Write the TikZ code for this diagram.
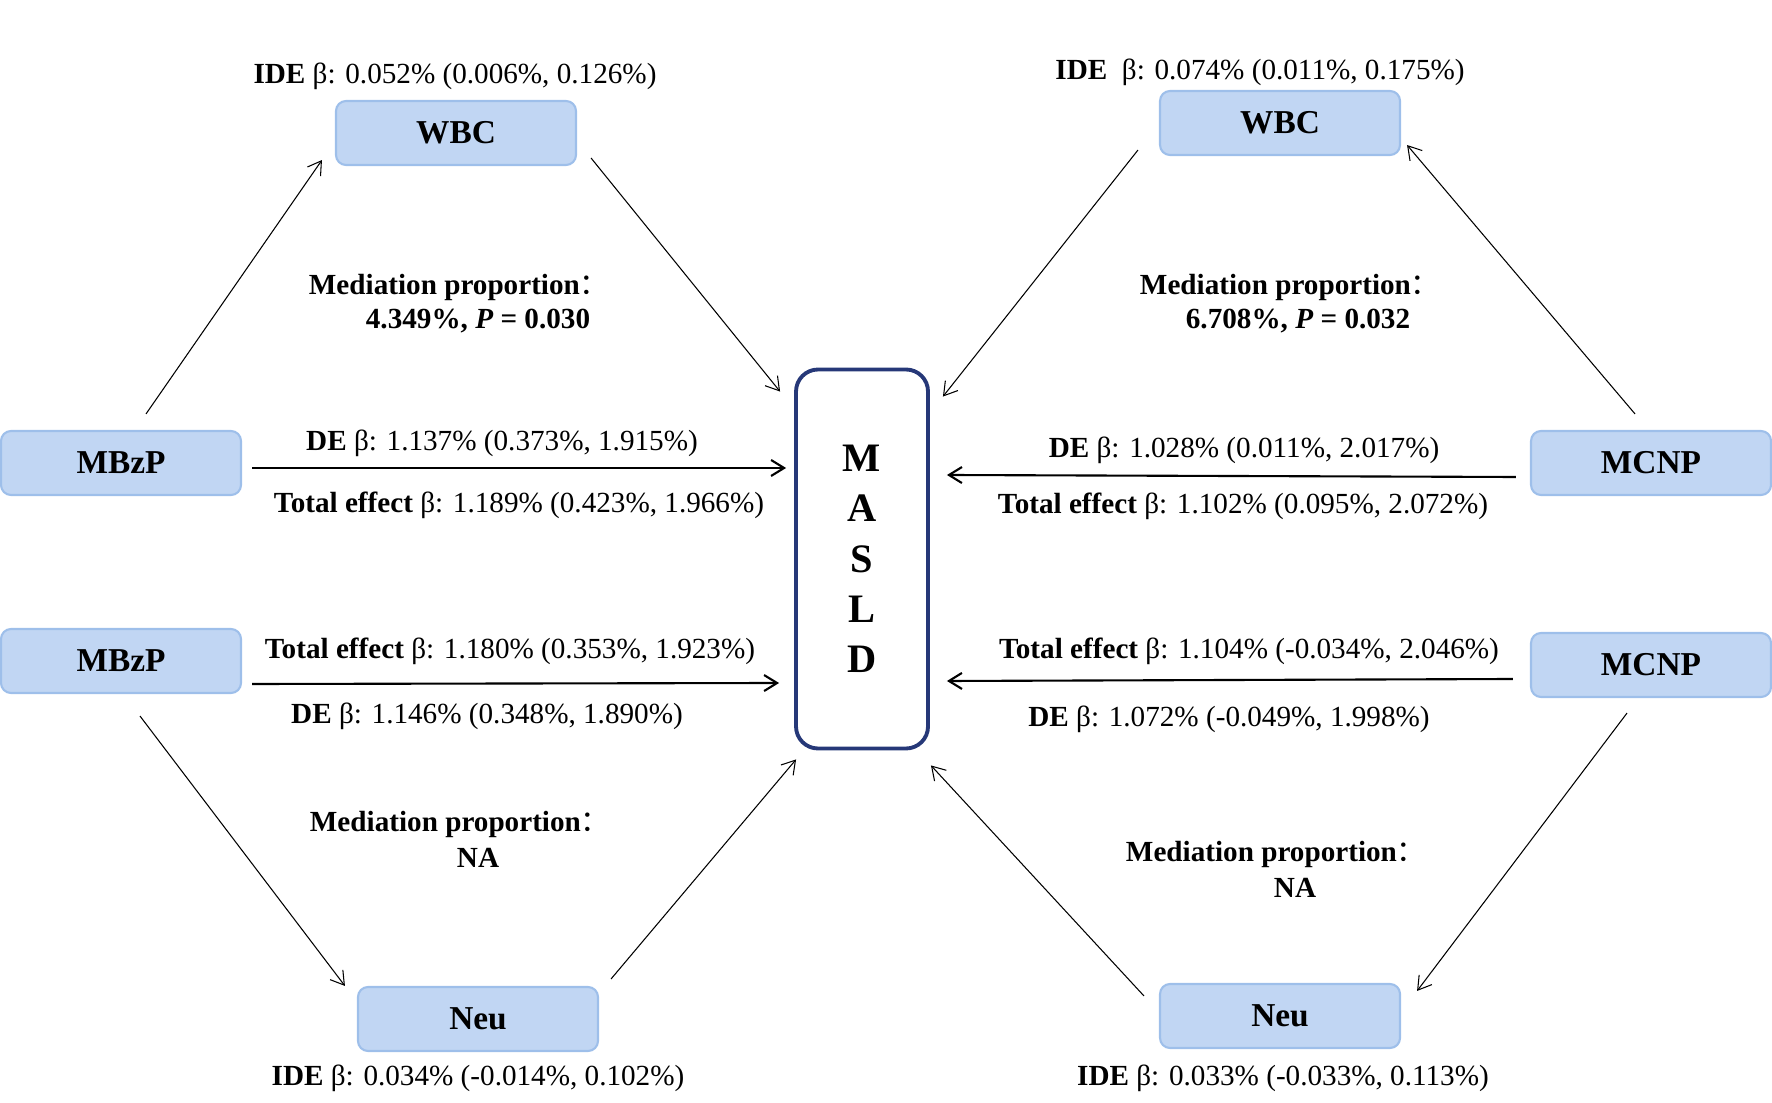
\documentclass[tikz,border=0pt]{standalone}
\usepackage{fontspec}
\setmainfont{Liberation Serif}
\newfontfamily\cjk{Noto Sans CJK SC}
\usetikzlibrary{calc,arrows.meta}
\definecolor{boxfill}{HTML}{C1D6F3}
\definecolor{boxline}{HTML}{9EBFEA}
\definecolor{navy}{HTML}{263878}
\newcommand{\medcolon}{{\cjk\mdseries ：}}

\begin{document}
\begin{tikzpicture}[x=0.1mm,y=-0.1mm,
    box/.style={draw=boxline,fill=boxfill,line width=0.6pt,rounded corners=1mm,
      minimum width=24mm,minimum height=6.4mm,inner sep=0pt,
      font=\fontsize{9.5}{11}\selectfont\bfseries},
    lbl/.style={inner sep=1pt,font=\fontsize{8.3}{10}\selectfont},
    med/.style={lbl,font=\fontsize{8.3}{10}\selectfont\bfseries},
    arr/.style={-{Straight Barb[length=1.3mm,width=1.6mm]},line width=0.3pt},
    harr/.style={arr,line width=0.6pt}]
  \useasboundingbox (0,0) rectangle (1772,1103);

  % outcome
  \node[draw=navy,line width=1.1pt,rounded corners=2.2mm,minimum width=13.2mm,
    minimum height=37.9mm,align=center,inner sep=0pt,
    font=\fontsize{11.5}{14.3}\selectfont\bfseries] (masld) at (862,559) {M\\A\\S\\L\\D};

  % exposures and mediators
  \node[box] (mbzpA) at (121,463) {MBzP};
  \node[box] (mbzpB) at (121,661) {MBzP};
  \node[box] (mcnpA) at (1651,463) {MCNP};
  \node[box] (mcnpB) at (1651,665) {MCNP};
  \node[box] (wbcA) at (456,133) {WBC};
  \node[box] (wbcB) at (1280,123) {WBC};
  \node[box] (neuA) at (478,1019) {Neu};
  \node[box] (neuB) at (1280,1016) {Neu};

  % MBzP - WBC
  \draw[arr] ($(mbzpA.north)+(25,-16)$) -- ($(wbcA.south west)+(-13,-6)$);
  \draw[arr] ($(wbcA.south east)+(14,-8)$) -- ($(masld.north west)+(-14,24)$);
  \draw[harr] ($(mbzpA.east)+(10,5)$) -- ($(mbzpA.east -| masld.west)+(-8,5)$);
  \node[lbl] (ideA) at (455,76) {\textbf{IDE} β: 0.052\% (0.006\%, 0.126\%)};
  \node[med] (medA) at (459,287) {Mediation proportion\medcolon};
  \node[med] (medAv) at (478,321) {4.349\%, \textit{P} = 0.030};
  \node[lbl] (deA) at (502,443) {\textbf{DE} β: 1.137\% (0.373\%, 1.915\%)};
  \node[lbl] (totA) at (519,505) {\textbf{Total effect} β: 1.189\% (0.423\%, 1.966\%)};

  % MCNP - WBC
  \draw[arr] ($(mcnpA.north)+(-16,-16)$) -- ($(wbcB.south east)+(6,-11)$);
  \draw[arr] ($(wbcB.south west)+(-21,-6)$) -- ($(masld.north east)+(13,29)$);
  \draw[harr] ($(mcnpA.west)+(-14,14)$) -- ($(mcnpA.west -| masld.east)+(17,12)$);
  \node[lbl] (ideB) at (1260,72) {\textbf{IDE}\ \ β: 0.074\% (0.011\%, 0.175\%)};
  \node[med] (medB) at (1290,287) {Mediation proportion\medcolon};
  \node[med] (medBv) at (1298,321) {6.708\%, \textit{P} = 0.032};
  \node[lbl] (deB) at (1244,450) {\textbf{DE} β: 1.028\% (0.011\%, 2.017\%)};
  \node[lbl] (totB) at (1243,506) {\textbf{Total effect} β: 1.102\% (0.095\%, 2.072\%)};

  % MBzP - Neu
  \draw[arr] ($(mbzpB.south)+(19,22)$) -- ($(neuA.north west)+(-12,0)$);
  \draw[arr] ($(neuA.north east)+(12,-7)$) -- ($(masld.south west)+(2,9)$);
  \draw[harr] ($(mbzpB.east)+(10,23)$) -- ($(mbzpB.east -| masld.west)+(-15,22)$);
  \node[lbl] (totC) at (510,651) {\textbf{Total effect} β: 1.180\% (0.353\%, 1.923\%)};
  \node[lbl] (deC) at (487,716) {\textbf{DE} β: 1.146\% (0.348\%, 1.890\%)};
  \node[med] (medC) at (460,824) {Mediation proportion\medcolon};
  \node[med] (medCv) at (478,858) {NA};
  \node[lbl] (ideC) at (478,1078) {\textbf{IDE} β: 0.034\% (-0.014\%, 0.102\%)};

  % MCNP - Neu
  \draw[arr] ($(mcnpB.south)+(-24,15)$) -- ($(neuB.north east)+(16,8)$);
  \draw[arr] ($(neuB.north west)+(-15,13)$) -- ($(masld.south east)+(1,15)$);
  \draw[harr] ($(mcnpB.west)+(-17,14)$) -- ($(mcnpB.west -| masld.east)+(17,16)$);
  \node[lbl] (totD) at (1249,651) {\textbf{Total effect} β: 1.104\% (-0.034\%, 2.046\%)};
  \node[lbl] (deD) at (1229,719) {\textbf{DE} β: 1.072\% (-0.049\%, 1.998\%)};
  \node[med] (medD) at (1276,854) {Mediation proportion\medcolon};
  \node[med] (medDv) at (1295,888) {NA};
  \node[lbl] (ideD) at (1283,1078) {\textbf{IDE} β: 0.033\% (-0.033\%, 0.113\%)};
\end{tikzpicture}
\end{document}
